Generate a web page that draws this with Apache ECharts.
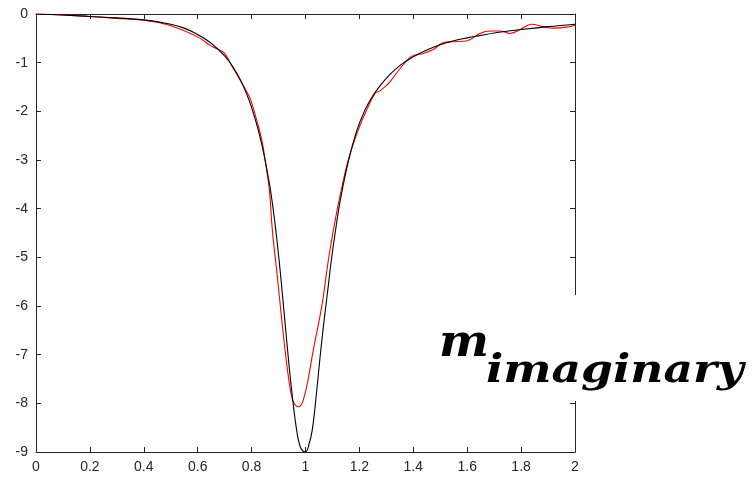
<!DOCTYPE html>
<html>
<head>
<meta charset="utf-8">
<script src="https://cdn.jsdelivr.net/npm/echarts@6/dist/echarts.min.js"></script>
<style>
  html, body { margin: 0; padding: 0; background: #fff; }
  #chart { width: 754px; height: 480px; }
</style>
</head>
<body>
<div id="chart"></div>
<script>
// black curve (model)
const xsModel = [0, 0.1, 0.2, 0.3, 0.4, 0.5, 0.55, 0.6, 0.65, 0.7, 0.73, 0.76, 0.79, 0.81, 0.83, 0.85, 0.87, 0.89,
  0.91, 0.93, 0.95, 0.97, 0.985, 1.0, 1.015, 1.025, 1.035, 1.055, 1.07, 1.08, 1.095, 1.11, 1.13,
  1.16, 1.19, 1.22, 1.25, 1.28, 1.31, 1.35, 1.4, 1.45, 1.5, 1.55, 1.6, 1.65, 1.7, 1.8, 1.9, 2.0]
const ysModel = [0, -0.02, -0.05, -0.08, -0.12, -0.21, -0.29, -0.42, -0.6, -0.86, -1.08, -1.37, -1.76, -2.1, -2.5, -3.0, -3.62, -4.45,
  -5.5, -6.7, -7.8, -8.65, -8.95, -9.0, -8.8, -8.55, -8.1, -7.0, -6.25, -5.8, -5.1, -4.5, -3.8,
  -3.0, -2.4, -1.98, -1.68, -1.45, -1.26, -1.06, -0.88, -0.74, -0.63, -0.55, -0.49, -0.44, -0.39, -0.32, -0.26, -0.21]

// red curve (measured)
const xsMeas = [0, 0.1, 0.2, 0.3, 0.4, 0.5, 0.6, 0.64, 0.66, 0.68, 0.7, 0.73, 0.76, 0.79, 0.8, 0.82, 0.84, 0.85,
  0.866, 0.877, 0.895, 0.912, 0.924, 0.94, 0.952, 0.965, 0.975, 0.985, 0.992, 1.007, 1.029, 1.051, 1.064,
  1.085, 1.105, 1.125, 1.159, 1.2, 1.227, 1.258, 1.276, 1.3, 1.314, 1.351, 1.388, 1.41, 1.437, 1.474,
  1.511, 1.548, 1.598, 1.647, 1.685, 1.722, 1.759, 1.796, 1.839, 1.882, 1.92, 1.969, 2.0]
const ysMeas = [0, -0.02, -0.05, -0.09, -0.13, -0.24, -0.47, -0.62, -0.69, -0.74, -0.81, -1.1, -1.38, -1.68, -1.82, -2.2, -2.65, -3.0,
  -3.62, -4.44, -5.37, -6.29, -6.9, -7.59, -7.93, -8.05, -8.07, -8.02, -7.93, -7.59, -6.9, -6.29, -5.88,
  -5.05, -4.4, -3.82, -3.0, -2.32, -1.97, -1.63, -1.58, -1.47, -1.39, -1.12, -0.89, -0.84, -0.81, -0.73,
  -0.59, -0.57, -0.555, -0.4, -0.35, -0.35, -0.4, -0.32, -0.21, -0.26, -0.29, -0.27, -0.23]

const labelColor = '#262626'

const pairs = (xs, ys) => xs.map((x, i) => [x, ys[i]])

const chart = echarts.init(document.getElementById('chart'))

const axisCommon = {
  type: 'value',
  axisLine: { show: true, onZero: false, lineStyle: { color: labelColor, width: 1 } },
  axisTick: { show: true, inside: true, length: 5, lineStyle: { color: labelColor } },
  splitLine: { show: false }
}

const option = {
  animation: false,
  backgroundColor: '#fff',
  grid: { left: 36, top: 14, right: 179, bottom: 28, containLabel: false, outerBoundsMode: 'none' },
  xAxis: [
    {
      ...axisCommon, position: 'bottom', min: 0, max: 2, interval: 0.2,
      axisLabel: { color: labelColor, fontSize: 14, fontFamily: 'Liberation Sans', margin: 8 }
    },
    {
      ...axisCommon, position: 'top', min: 0, max: 2, interval: 0.2,
      axisLabel: { show: false }
    }
  ],
  yAxis: [
    {
      ...axisCommon, position: 'left', min: -9, max: 0, interval: 1,
      axisLabel: { color: labelColor, fontSize: 14, fontFamily: 'Liberation Sans', margin: 8 }
    },
    {
      ...axisCommon, position: 'right', min: -9, max: 0, interval: 1,
      axisLabel: { show: false }
    }
  ],
  series: [
    {
      type: 'line',
      data: pairs(xsMeas, ysMeas),
      showSymbol: false,
      smooth: 0.4,
      lineStyle: { color: '#ff0000', width: 1.1 },
      z: 2
    },
    {
      type: 'line',
      data: pairs(xsModel, ysModel),
      showSymbol: false,
      smooth: 0.4,
      lineStyle: { color: '#000000', width: 1.1 },
      z: 3
    }
  ],
  graphic: [
    {
      type: 'rect',
      left: 436, top: 295,
      shape: { width: 318, height: 106 },
      style: { fill: '#fff' },
      z: 100
    },
    {
      type: 'text',
      x: 439, y: 322,
      scaleX: 1.05,
      style: {
        text: 'm',
        font: 'italic bold 45px "DejaVu Serif"',
        fill: '#000'
      },
      z: 101
    },
    {
      type: 'text',
      x: 486, y: 352,
      scaleX: 1.14,
      style: {
        text: 'imaginary',
        font: 'italic bold 40px "DejaVu Serif"',
        fill: '#000'
      },
      z: 101
    }
  ]
}

chart.setOption(option)
</script>
</body>
</html>
